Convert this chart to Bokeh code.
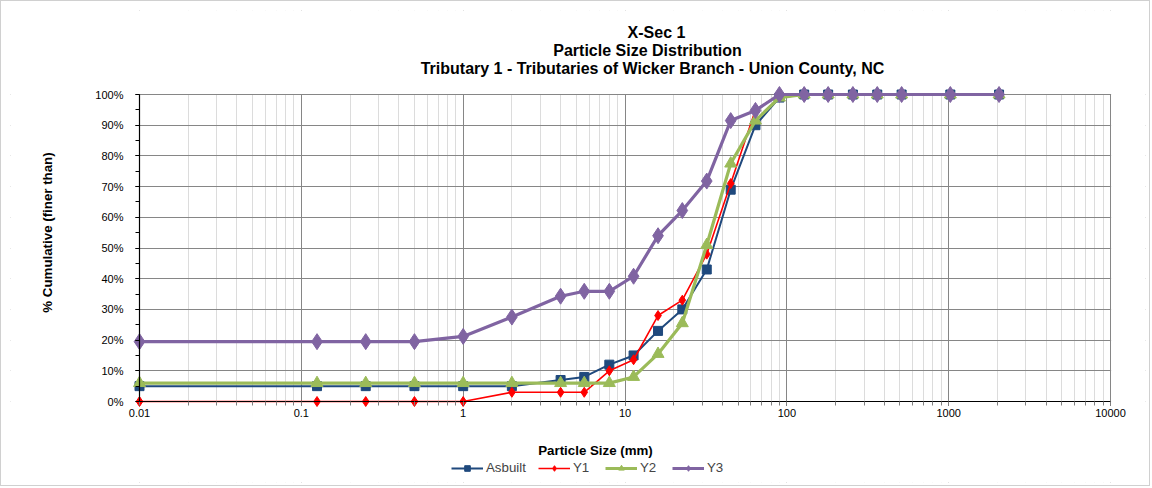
import math
from bokeh.plotting import figure
from bokeh.models import (Range1d, FixedTicker, PrintfTickFormatter, Label,
                          Legend, LegendItem, BoxAnnotation)
from bokeh.embed import file_html
from bokeh.resources import INLINE

# ---- data ----
sizes = [0.01, 0.125, 0.25, 0.5, 1, 2, 4, 5.6, 8, 11.3, 16, 22.6, 32, 45, 64,
         90, 128, 180, 256, 362, 512, 1024, 2048]
asbuilt = [5, 5, 5, 5, 5, 5, 7, 8, 12, 15, 23, 30, 43, 69, 90,
           99, 100, 100, 100, 100, 100, 100, 100]
y1 = [0, 0, 0, 0, 0, 3, 3, 3, 10, 13.6, 28, 33, 48, 71, 95,
      100, 100, 100, 100, 100, 100, 100, 100]
y2 = [6, 6, 6, 6, 6, 6, 6, 6, 6, 8, 15.5, 25.5, 51, 77.5, 91.5,
      99, 100, 100, 100, 100, 100, 100, 100]
y3 = [19.5, 19.5, 19.5, 19.5, 21.2, 27.5, 34.3, 35.9, 35.9, 40.8, 54, 62.2,
      71.8, 91.5, 94.8, 100, 100, 100, 100, 100, 100, 100, 100]

x_major = [0.01, 0.1, 1, 10, 100, 1000, 10000]
x_labels = ["0.01", "0.1", "1", "10", "100", "1000", "10000"]
y_major = list(range(0, 101, 10))
y_minor = list(range(0, 101, 5))
titles = ["X-Sec 1", "Particle Size Distribution",
          "Tributary 1 - Tributaries of Wicker Branch - Union County, NC"]
x_title = "Particle Size (mm)"
y_title = "% Cumulative (finer than)"

FONT = "Liberation Sans"

# ---- layout geometry (page pixels) ----
W, H = 1150, 486            # canvas size (1px CSS border around it)
FL, FT, FR, FB = 10, 10, 1145, 482   # drawing frame on the page
AX_L, AX_R, AX_T, AX_B = 139, 1110, 94, 401  # visible plot area
XMIN, XMAX, YMIN, YMAX = 0.01, 10000, 0, 100
dec_px = (AX_R - AX_L) / (math.log10(XMAX) - math.log10(XMIN))
pct_px = (AX_B - AX_T) / (YMAX - YMIN)
x_start = 10 ** (math.log10(XMIN) - (AX_L - FL) / dec_px)
x_end = 10 ** (math.log10(XMAX) + (FR - AX_R) / dec_px)
y_start = YMIN - (FB - AX_B) / pct_px
y_end = YMAX + (AX_T - FT) / pct_px

x_minor = []
for d in x_major[:-1]:
    for k in range(1, 10):
        x_minor.append(d * k)
x_minor.append(XMAX)

p = figure(width=W, height=H, x_axis_type="log", title=None,
           x_range=Range1d(x_start, x_end), y_range=Range1d(y_start, y_end),
           output_backend="svg", toolbar_location=None,
           min_border_left=FL - 1, min_border_right=W - (FR - 1),
           min_border_top=FT - 1, min_border_bottom=H - (FB - 1))
p.styles = {"border": "1px solid #d0d0d0"}
p.background_fill_color = "white"
p.border_fill_color = "white"
p.outline_line_color = None

# axes pinned to the visible plot area
p.xaxis.fixed_location = YMIN
p.yaxis.fixed_location = XMIN
p.xaxis.bounds = (XMIN, XMAX)
p.yaxis.bounds = (YMIN, YMAX)
p.xaxis.ticker = FixedTicker(ticks=x_major, minor_ticks=x_minor)
p.xaxis.major_label_overrides = {v: l for v, l in zip(x_major, x_labels)}
p.yaxis.ticker = FixedTicker(ticks=y_major, minor_ticks=y_minor)
p.yaxis.formatter = PrintfTickFormatter(format="%d%%")
for ax in (p.xaxis, p.yaxis):
    ax.axis_line_color = "black"
    ax.axis_line_width = 1.2
    ax.major_tick_line_color = "black"
    ax.major_tick_out = 4
    ax.major_tick_in = 0
    ax.minor_tick_out = 4
    ax.minor_tick_in = 0
    ax.major_label_text_font = FONT
    ax.major_label_text_font_size = "11px"
    ax.major_label_text_color = "black"
p.xaxis.minor_tick_line_color = "#808080"
p.yaxis.minor_tick_line_color = "black"
p.xaxis.major_label_standoff = 3
p.yaxis.major_label_standoff = 12

# grids
p.xgrid.ticker = FixedTicker(ticks=x_major, minor_ticks=x_minor)
p.xgrid.grid_line_color = "#868686"
p.xgrid.minor_grid_line_color = "#dcdcdc"
p.ygrid.ticker = FixedTicker(ticks=y_major)
p.ygrid.grid_line_color = "#868686"

# white masks keep grid lines inside the plot area
eps_y = 0.6 / pct_px
eps_x = 10 ** (math.log10(XMAX) + 0.6 / dec_px)
for kw in (dict(top=YMIN), dict(bottom=YMAX + eps_y),
           dict(right=XMIN), dict(left=eps_x)):
    p.add_layout(BoxAnnotation(fill_color="white", fill_alpha=1,
                               line_color=None, level="underlay", **kw))

# series
r_a_l = p.line(sizes, asbuilt, line_color="#1F497D", line_width=2)
r_a_m = p.scatter(sizes, asbuilt, marker="square", size=9,
                  fill_color="#1F497D", line_color="#1F497D")
r_1_l = p.line(sizes, y1, line_color="#FF0000", line_width=1.6)
r_1_m = p.scatter(sizes, y1, marker="diamond", size=10,
                  fill_color="#FF0000", line_color="#FF0000")
r_2_l = p.line(sizes, y2, line_color="#9BBB59", line_width=3.2)
r_2_m = p.scatter(sizes, y2, marker="triangle", size=12,
                  fill_color="#9BBB59", line_color="#9BBB59")
r_3_l = p.line(sizes, y3, line_color="#8064A2", line_width=3.2)
r_3_m = p.scatter(sizes, y3, marker="diamond", size=16,
                  fill_color="#8064A2", line_color="#8064A2")

legend = Legend(items=[
    LegendItem(label="Asbuilt", renderers=[r_a_l, r_a_m]),
    LegendItem(label="Y1", renderers=[r_1_l, r_1_m]),
    LegendItem(label="Y2", renderers=[r_2_l, r_2_m]),
    LegendItem(label="Y3", renderers=[r_3_l, r_3_m]),
], orientation="horizontal", location=(451 - FL, FB - 475))
legend.border_line_color = None
legend.background_fill_alpha = 0
legend.padding = 0
legend.margin = 0
legend.spacing = 12
legend.glyph_width = 32
legend.glyph_height = 14
legend.label_standoff = 3
legend.label_text_font = FONT
legend.label_text_font_size = "13.3px"
legend.label_height = 14
p.add_layout(legend)

def scr(px, py):
    return px - FL, FB - py

# titles
for t, (cx, cy) in zip(titles, [(656, 32), (647, 50), (652, 68)]):
    sx, sy = scr(cx, cy)
    p.add_layout(Label(x=sx, y=sy, x_units="screen", y_units="screen",
                       text=t, text_align="center", text_baseline="middle",
                       text_font=FONT, text_font_size="16px",
                       text_font_style="bold", text_color="black"))

sx, sy = scr(595, 450)
p.add_layout(Label(x=sx, y=sy, x_units="screen", y_units="screen",
                   text=x_title, text_align="center", text_baseline="middle",
                   text_font=FONT, text_font_size="13.3px",
                   text_font_style="bold", text_color="black"))
sx, sy = scr(47, 232)
p.add_layout(Label(x=sx, y=sy, x_units="screen", y_units="screen",
                   text=y_title, angle=math.pi / 2, text_align="center",
                   text_baseline="middle", text_font=FONT,
                   text_font_size="13.3px", text_font_style="bold",
                   text_color="black"))

open("out.html", "w").write(file_html(p, INLINE))
